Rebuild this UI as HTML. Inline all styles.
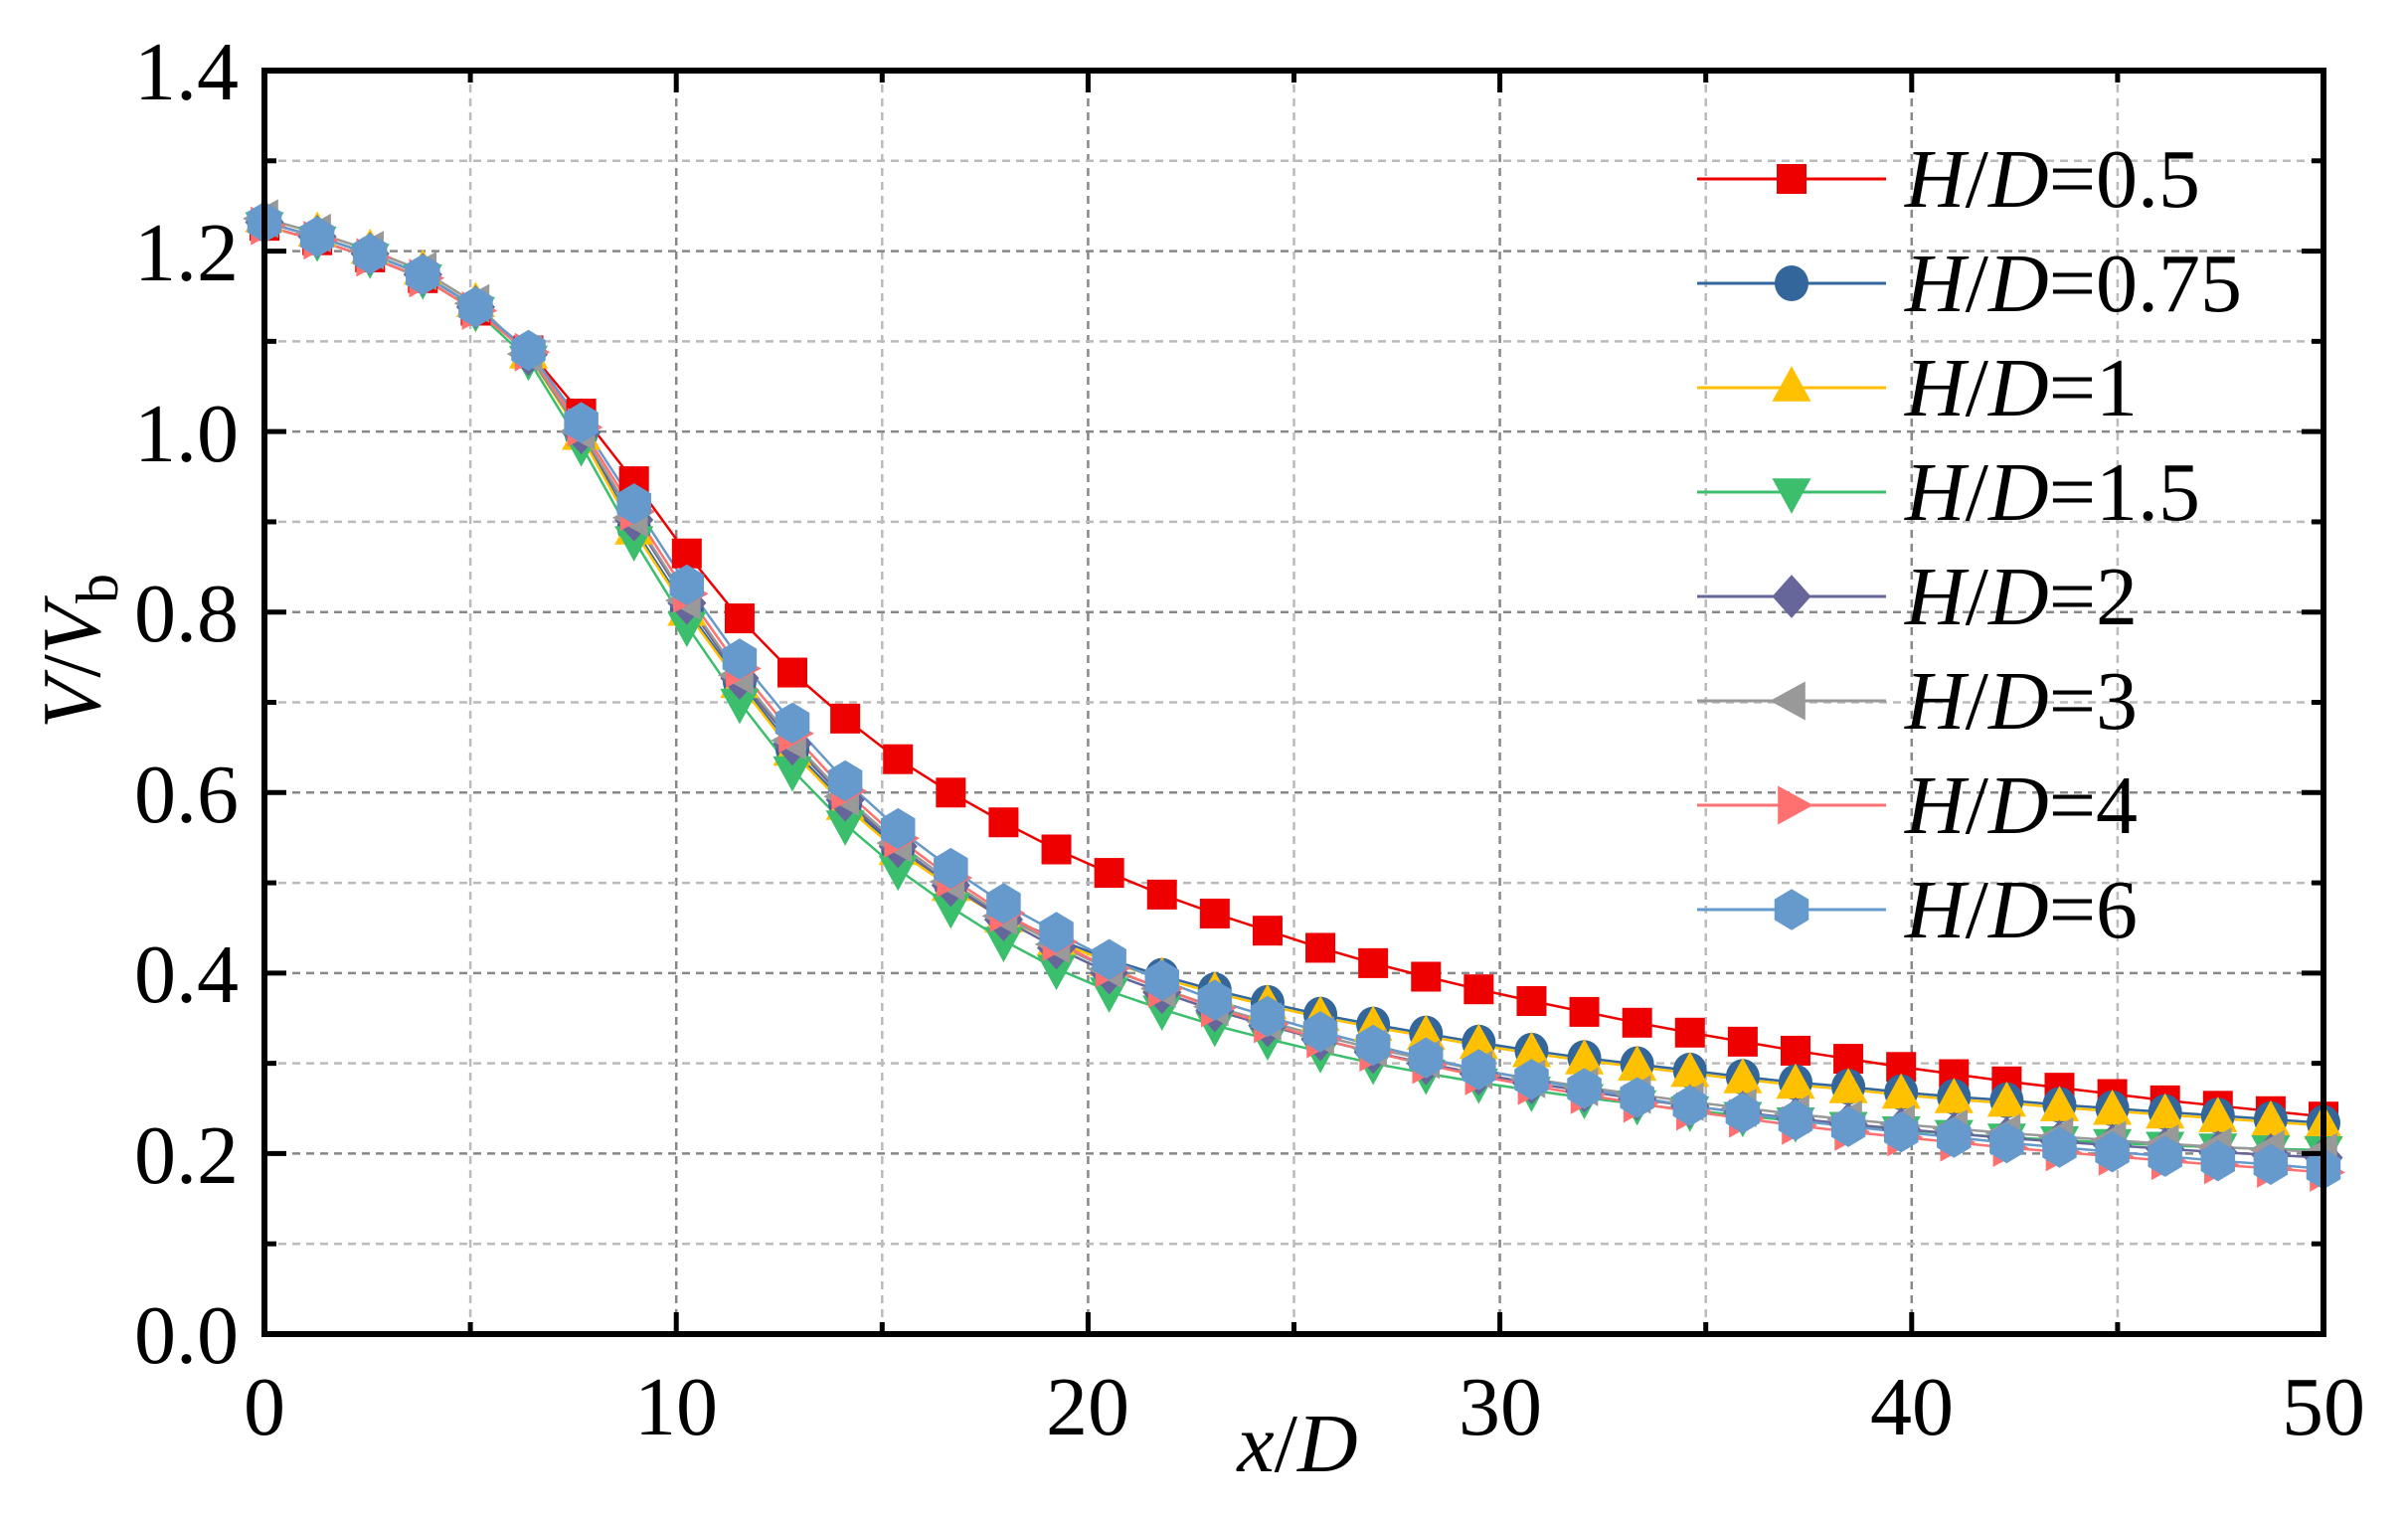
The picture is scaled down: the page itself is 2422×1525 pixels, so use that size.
<!DOCTYPE html>
<html><head><meta charset="utf-8"><style>
html,body{margin:0;padding:0;background:#fff}
svg{display:block}
text{font-family:"Liberation Serif","Times New Roman",serif;fill:#000}
</style></head><body>
<svg id="s" width="2422" height="1525" viewBox="0 0 2422 1525" xmlns="http://www.w3.org/2000/svg">
<g id="grid"></g>
<g id="series"></g>
<g id="axes"></g>
<g font-size="84">
<text x="240" y="100" text-anchor="end">1.4</text>
<text x="240" y="282" text-anchor="end">1.2</text>
<text x="240" y="464" text-anchor="end">1.0</text>
<text x="240" y="645" text-anchor="end">0.8</text>
<text x="240" y="827" text-anchor="end">0.6</text>
<text x="240" y="1008" text-anchor="end">0.4</text>
<text x="240" y="1190" text-anchor="end">0.2</text>
<text x="240" y="1371" text-anchor="end">0.0</text>
<text x="266" y="1443" text-anchor="middle">0</text>
<text x="680" y="1443" text-anchor="middle">10</text>
<text x="1094" y="1443" text-anchor="middle">20</text>
<text x="1509" y="1443" text-anchor="middle">30</text>
<text x="1923" y="1443" text-anchor="middle">40</text>
<text x="2337" y="1443" text-anchor="middle">50</text>
<text x="1305" y="1480" text-anchor="middle"><tspan font-style="italic">x</tspan>/<tspan font-style="italic">D</tspan></text>
<text transform="translate(100,655) rotate(-90)" text-anchor="middle"><tspan font-style="italic">V</tspan>/<tspan font-style="italic">V</tspan><tspan font-size="60" dy="18">b</tspan></text>
</g>
<g font-size="84" font-style="normal">
<text x="1916" y="208"><tspan font-style="italic">H</tspan>/<tspan font-style="italic">D</tspan>=0.5</text>
<text x="1916" y="313"><tspan font-style="italic">H</tspan>/<tspan font-style="italic">D</tspan>=0.75</text>
<text x="1916" y="418"><tspan font-style="italic">H</tspan>/<tspan font-style="italic">D</tspan>=1</text>
<text x="1916" y="523"><tspan font-style="italic">H</tspan>/<tspan font-style="italic">D</tspan>=1.5</text>
<text x="1916" y="628"><tspan font-style="italic">H</tspan>/<tspan font-style="italic">D</tspan>=2</text>
<text x="1916" y="733"><tspan font-style="italic">H</tspan>/<tspan font-style="italic">D</tspan>=3</text>
<text x="1916" y="838"><tspan font-style="italic">H</tspan>/<tspan font-style="italic">D</tspan>=4</text>
<text x="1916" y="943"><tspan font-style="italic">H</tspan>/<tspan font-style="italic">D</tspan>=6</text>
</g>
<g id="legend"></g>
</svg>
<script>
const NS="http://www.w3.org/2000/svg";
const L=266,R=2337,T=71,B=1342;
const X=v=>L+v*(R-L)/50, Y=v=>B-v*(B-T)/1.4;
function el(p,t,a){const e=document.createElementNS(NS,t);for(const k in a)e.setAttribute(k,a[k]);p.appendChild(e);return e;}
const g=document.getElementById('grid'),ax=document.getElementById('axes');
for(let i=1;i<10;i++){const x=X(i*5);el(g,'line',{x1:x,x2:x,y1:T,y2:B,stroke:i%2?'#bbb':'#888','stroke-width':2.5,'stroke-dasharray':'8,6'});}
for(let i=1;i<14;i++){const y=Y(i*0.1);el(g,'line',{x1:L,x2:R,y1:y,y2:y,stroke:i%2?'#bbb':'#888','stroke-width':2.5,'stroke-dasharray':'8,6'});}
el(ax,'rect',{x:L,y:T,width:R-L,height:B-T,fill:'none',stroke:'#000','stroke-width':6});
for(let i=1;i<10;i++){const x=X(i*5),len=i%2?12:22;
 el(ax,'line',{x1:x,x2:x,y1:B,y2:B-len,stroke:'#000','stroke-width':5});
 el(ax,'line',{x1:x,x2:x,y1:T,y2:T+len,stroke:'#000','stroke-width':5});}
for(let i=1;i<14;i++){const y=Y(i*0.1),len=i%2?12:22;
 el(ax,'line',{x1:L,x2:L+len,y1:y,y2:y,stroke:'#000','stroke-width':5});
 el(ax,'line',{x1:R,x2:R-len,y1:y,y2:y,stroke:'#000','stroke-width':5});}
const head=[1.232,1.216,1.197,1.174,1.138];
const red=[1.09,1.02,0.945,0.865,0.793,0.733,0.682,0.637,0.600,0.567,0.537,0.511,0.487,0.466,0.447,0.428,0.411,0.396,0.382,0.369,0.357,0.345,0.334,0.324,0.314,0.305,0.296,0.288,0.280,0.273,0.266,0.259,0.253,0.247,0.241];
const hex=[1.09,1.01,0.92,0.83,0.748,0.677,0.613,0.56,0.516,0.477,0.445,0.415,0.392,0.37,0.352,0.335,0.32,0.306,0.293,0.282,0.272,0.262,0.253,0.245,0.237,0.23,0.224,0.218,0.212,0.207,0.202,0.197,0.192,0.188,0.183];
const grn=[1.08,0.985,0.88,0.785,0.70,0.625,0.565,0.515,0.473,0.436,0.405,0.38,0.36,0.342,0.327,0.313,0.30,0.289,0.279,0.27,0.262,0.255,0.248,0.242,0.236,0.231,0.226,0.222,0.218,0.215,0.212,0.209,0.207,0.205,0.204];
const yel=[1.085,0.995,0.89,0.80,0.72,0.645,0.585,0.535,0.495,0.46,0.435,0.412,0.394,0.378,0.364,0.351,0.34,0.33,0.32,0.311,0.303,0.296,0.289,0.282,0.276,0.271,0.265,0.26,0.256,0.251,0.247,0.243,0.239,0.235,0.231];
const mix=(a,b,w,o)=>a.map((v,i)=>w*v+(1-w)*b[i]+(o||0)*i/34);
const blu=yel.map((v,i)=>v+0.003);
const dia=mix(hex,grn,0.55,0.003), gry=mix(hex,grn,0.6,0.01), sal=mix(hex,grn,0.8,-0.008);
const S=[
 ['#EE0000','sq',red],['#33669A','ci',blu],['#FFC000','tu',yel],['#3CBF6C','td',grn],
 ['#66669A','di',dia],['#999999','tl',gry],['#FF7070','tr',sal],['#6699CC','hx',hex]];
function marker(p,type,cx,cy,c){const k=1.15;
 if(type=='sq')el(p,'rect',{x:cx-15,y:cy-15,width:30,height:30,fill:c});
 else if(type=='ci')el(p,'ellipse',{cx,cy,rx:17,ry:18,fill:c});
 else{let pts;
  if(type=='tu')pts=[[0,-19],[17,12],[-17,12]];
  if(type=='td')pts=[[0,19],[17,-12],[-17,-12]];
  if(type=='tl')pts=[[-19,0],[12,-17],[12,17]];
  if(type=='tr')pts=[[19,0],[-12,-17],[-12,17]];
  if(type=='di')pts=[[0,-19],[17,0],[0,19],[-17,0]];
  if(type=='hx')pts=[[0,-18],[15,-9],[15,9],[0,18],[-15,9],[-15,-9]];
  el(p,'polygon',{points:pts.map(q=>(cx+q[0]*k)+','+(cy+q[1]*k)).join(' '),fill:c});}}
const sg=document.getElementById('series'),lg=document.getElementById('legend');
S.forEach((s,k)=>{const vals=head.concat(s[2]);
 const pts=vals.map((v,i)=>[X(i*50/39),Y(v+(k?0.004*((k%3)-1):-0.004)*(i<5?1:0))]);
 el(sg,'polyline',{points:pts.map(p=>p.join(',')).join(' '),fill:'none',stroke:s[0],'stroke-width':2.5});
 s.pts=pts;});
S.forEach(s=>{s.pts.forEach(p=>marker(sg,s[1],p[0],p[1],s[0]));});
S.forEach((s,k)=>{const y=180+k*105;
 el(lg,'line',{x1:1707,x2:1897,y1:y,y2:y,stroke:s[0],'stroke-width':3});
 marker(lg,s[1],1802,y,s[0]);});
</script>
</body></html>
